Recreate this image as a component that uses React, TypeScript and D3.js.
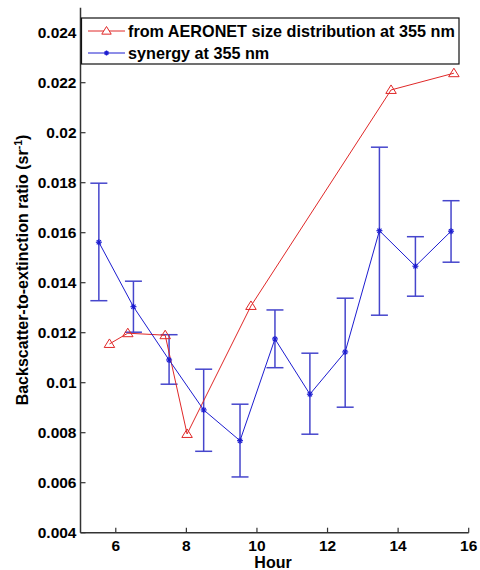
import React from "react";
import * as d3 from "d3";

const aeronetHour = [5.82, 6.34, 7.4, 8.02, 9.83, 13.8, 15.58];
const aeronetValue = [0.01155, 0.01198, 0.0119, 0.00795, 0.01307, 0.02171, 0.02238];

const synergyHour = [5.52, 6.5, 7.51, 8.49, 9.52, 10.51, 11.5, 12.5, 13.47, 14.49, 15.5];
const synergyValue = [0.01562, 0.01304, 0.01091, 0.00891, 0.00768, 0.01175, 0.00954, 0.01123, 0.01608, 0.01466, 0.01606];
const synergyUpper = [0.01798, 0.01406, 0.01192, 0.01054, 0.00914, 0.01291, 0.01118, 0.01338, 0.01942, 0.01584, 0.01728];
const synergyLower = [0.01328, 0.01202, 0.00994, 0.007256, 0.00623, 0.0106, 0.00794, 0.00902, 0.0127, 0.01346, 0.01482];

const xTicks = [6, 8, 10, 12, 14, 16];
const yTicks = [0.004, 0.006, 0.008, 0.01, 0.012, 0.014, 0.016, 0.018, 0.02, 0.022, 0.024];
const yTickLabels = ["0.004", "0.006", "0.008", "0.01", "0.012", "0.014", "0.016", "0.018", "0.02", "0.022", "0.024"];

const legendLabels = ["from AERONET size distribution at 355 nm", "synergy at 355 nm"];

const RED = "#e02828";
const BLUE = "#1c1cd0";
const ERR = "#4646cc";
const FONT = "Liberation Sans, Arial, sans-serif";

export default function App() {
  const x = d3.scaleLinear().domain([5, 16]).range([80.5, 468.7]);
  const y = d3.scaleLinear().domain([0.004, 0.025]).range([532.7, 7.7]);

  const redLine = d3.line<number>().x((_, i) => x(aeronetHour[i])).y((v) => y(v));
  const blueLine = d3.line<number>().x((_, i) => x(synergyHour[i])).y((v) => y(v));

  const tri = (cx: number, cy: number, s: number) =>
    `M${cx},${cy - s}L${cx + s * 1.05},${cy + s * 0.7}L${cx - s * 1.05},${cy + s * 0.7}Z`;

  const star = (cx: number, cy: number, s: number, key: string) => (
    <g key={key} stroke={BLUE} strokeWidth={1.2}>
      <line x1={cx - s} y1={cy} x2={cx + s} y2={cy} />
      <line x1={cx} y1={cy - s} x2={cx} y2={cy + s} />
      <line x1={cx - s * 0.7} y1={cy - s * 0.7} x2={cx + s * 0.7} y2={cy + s * 0.7} />
      <line x1={cx - s * 0.7} y1={cy + s * 0.7} x2={cx + s * 0.7} y2={cy - s * 0.7} />
    </g>
  );

  const x0 = x(5);
  const yb = y(0.004);
  const capW = 8.5;

  return (
    <svg width={480} height={570} style={{ position: "absolute", left: 0, top: 0, background: "#fff" }} fontFamily={FONT}>
      <rect x={0} y={0} width={480} height={570} fill="#fff" />
      {/* axes */}
      <line x1={x0} y1={y(0.025)} x2={x0} y2={yb} stroke="#333" strokeWidth={1.5} />
      <line x1={x0} y1={yb} x2={x(16)} y2={yb} stroke="#333" strokeWidth={1.5} />
      {xTicks.map((t) => (
        <g key={"xt" + t}>
          <line x1={x(t)} y1={yb} x2={x(t)} y2={yb - 5} stroke="#333" strokeWidth={1.2} />
          <text x={x(t)} y={551} textAnchor="middle" fontSize={15.5} fontWeight="bold" fill="#000">{t}</text>
        </g>
      ))}
      {yTicks.map((t, i) => (
        <g key={"yt" + i}>
          <line x1={x0} y1={y(t)} x2={x0 + 5} y2={y(t)} stroke="#333" strokeWidth={1.2} />
          <text x={x0 - 4} y={y(t)} dy="0.35em" textAnchor="end" fontSize={15.5} fontWeight="bold" fill="#000">{yTickLabels[i]}</text>
        </g>
      ))}
      <text x={273} y={568} textAnchor="middle" fontSize={16} fontWeight="bold">Hour</text>
      <text transform="translate(28,270) rotate(-90)" textAnchor="middle" fontSize={16} fontWeight="bold">
        Backscatter-to-extinction ratio (sr
        <tspan dy={-6} fontSize={10.5}>-1</tspan>
        <tspan dy={6}>)</tspan>
      </text>

      {/* error bars */}
      {synergyHour.map((h, i) => (
        <g key={"eb" + i} stroke={ERR} strokeWidth={1.5}>
          <line x1={x(h)} y1={y(synergyUpper[i])} x2={x(h)} y2={y(synergyLower[i])} />
          <line x1={x(h) - capW} y1={y(synergyUpper[i])} x2={x(h) + capW} y2={y(synergyUpper[i])} />
          <line x1={x(h) - capW} y1={y(synergyLower[i])} x2={x(h) + capW} y2={y(synergyLower[i])} />
        </g>
      ))}
      <path d={redLine(aeronetValue) || ""} fill="none" stroke={RED} strokeWidth={1} />
      <path d={blueLine(synergyValue) || ""} fill="none" stroke={BLUE} strokeWidth={1} />
      {aeronetHour.map((h, i) => (
        <path key={"tr" + i} d={tri(x(h), y(aeronetValue[i]), 5)} fill="none" stroke={RED} strokeWidth={1} />
      ))}
      {synergyHour.map((h, i) => star(x(h), y(synergyValue[i]), 3, "st" + i))}

      {/* legend */}
      <rect x={81.5} y={18} width={377.5} height={46} fill="#fff" stroke="#111" strokeWidth={1.2} />
      <line x1={88} y1={31} x2={125} y2={31} stroke={RED} strokeWidth={1} />
      <path d={tri(106.5, 31, 4.5)} fill="#fff" stroke={RED} strokeWidth={1} />
      <text x={128} y={31} dy="0.35em" fontSize={16.2} fontWeight="bold">{legendLabels[0]}</text>
      <line x1={88} y1={53} x2={125} y2={53} stroke={BLUE} strokeWidth={1} />
      {star(106.5, 53, 2.5, "lst")}
      <text x={128} y={53} dy="0.35em" fontSize={16.2} fontWeight="bold">{legendLabels[1]}</text>
    </svg>
  );
}
